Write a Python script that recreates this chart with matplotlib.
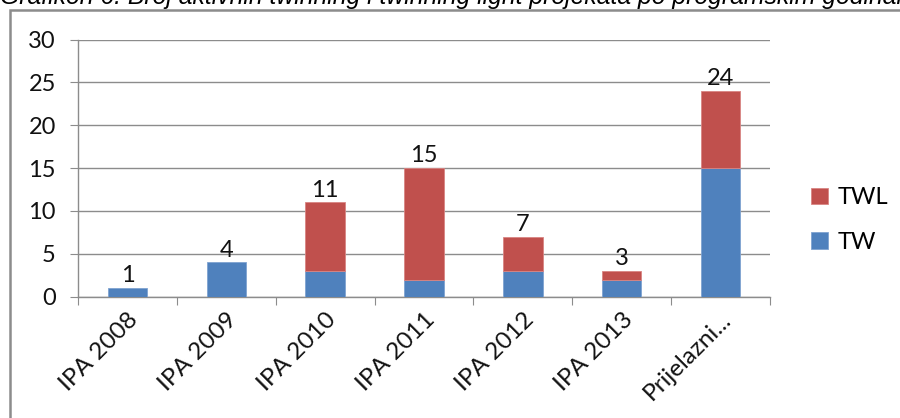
import matplotlib
matplotlib.use("Agg")
import matplotlib.pyplot as plt
from matplotlib.patches import Rectangle
import numpy as np

categories = ["IPA 2008", "IPA 2009", "IPA 2010", "IPA 2011", "IPA 2012", "IPA 2013", "Prijelazni..."]
tw = [1, 4, 3, 2, 3, 2, 15]
twl = [0, 0, 8, 13, 4, 1, 9]
totals = [1, 4, 11, 15, 7, 3, 24]
yticks = [0, 5, 10, 15, 20, 25, 30]
title = "Grafikon 6: Broj aktivnih twinning i twinning light projekata po programskim godinama"

FONT = ["Lato", "DejaVu Sans"]
plt.rcParams["font.family"] = FONT

fig = plt.figure(figsize=(9, 4.18), dpi=100)
fig.patch.set_facecolor("white")

# outer chart frame
fig.patches.append(Rectangle((10 / 900, -0.05), 1.0, 1 - 10 / 418 + 0.05,
                             transform=fig.transFigure, fill=False,
                             edgecolor="#8c8c8c", linewidth=1.8))

# title partly cut off at top, as in the reference
fig.text(0.0, 1 - 4 / 418, title, ha="left", va="baseline", fontsize=17.8,
         style="italic", family=["Liberation Sans", "DejaVu Sans"], color="black")

ax = fig.add_axes([78 / 900, 1 - 296.7 / 418, (770 - 78) / 900, (296.7 - 39.5) / 418])
x = np.arange(len(categories))
blue = "#4F81BD"
red = "#C0504D"
tw_arr = np.array(tw, dtype=float)
twl_arr = np.array(twl, dtype=float)
ax.bar(x, tw_arr, width=0.4, color=blue, edgecolor="#7fa3d1", linewidth=0.6, label="TW", zorder=3)
m = twl_arr > 0
ax.bar(x[m], twl_arr[m], width=0.4, bottom=tw_arr[m], color=red, edgecolor="#d98583",
       linewidth=0.6, label="TWL", zorder=3)

for xi, t in zip(x, totals):
    ax.text(xi, t + 0.2, str(t), ha="center", va="bottom", fontsize=17, color="#111111")

ax.set_xlim(-0.5, len(categories) - 0.5)
ax.set_ylim(0, 30)
ax.set_yticks(yticks)
ax.set_yticklabels([str(v) for v in yticks], fontsize=17, color="#111111")
ax.set_xticks(np.arange(len(categories) + 1) - 0.5, minor=False)
ax.set_xticklabels([])
ax.set_xticks(x, minor=True)
ax.set_xticklabels(categories, minor=True, rotation=45, ha="right", rotation_mode="anchor",
                   fontsize=17.5, color="#111111")
ax.tick_params(axis="x", which="minor", length=0, pad=9)
ax.tick_params(axis="x", which="major", length=6, color="#8c8c8c", direction="out")
ax.tick_params(axis="y", length=6, color="#8c8c8c", direction="out", pad=10)

ax.grid(axis="y", color="#8c8c8c", linewidth=1.0, zorder=0)
ax.set_axisbelow(True)
for s in ["top", "right"]:
    ax.spines[s].set_visible(False)
for s in ["left", "bottom"]:
    ax.spines[s].set_color("#8c8c8c")
    ax.spines[s].set_linewidth(1.0)

handles, labels = ax.get_legend_handles_labels()
leg = fig.legend(handles[::-1], labels[::-1], loc="center left",
                 bbox_to_anchor=(790 / 900, 1 - 220 / 418), frameon=False,
                 fontsize=17, handlelength=0.7, handleheight=0.7,
                 labelspacing=1.0, handletextpad=0.4)

fig.savefig("out.png", dpi=100)
